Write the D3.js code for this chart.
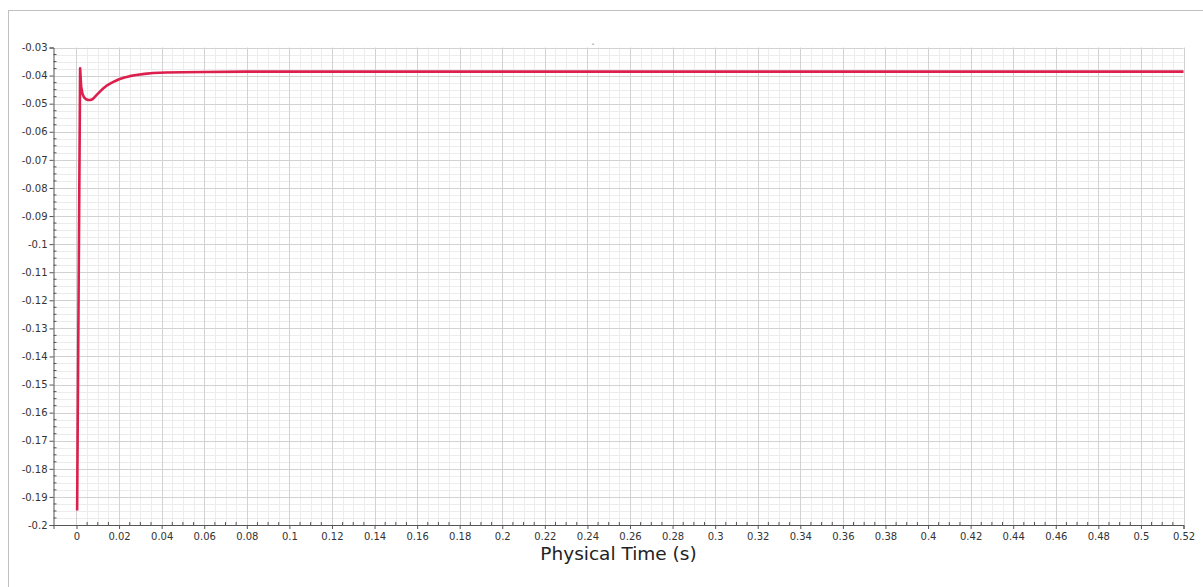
<!DOCTYPE html>
<html>
<head>
<meta charset="utf-8">
<script src="https://cdn.jsdelivr.net/npm/d3@7"></script>
<style>
  html, body { margin: 0; padding: 0; background: #fff; }
  svg { display: block; font-family: "DejaVu Sans", sans-serif; }
</style>
</head>
<body>
<svg id="chart" width="1203" height="587"></svg>
<script>
// Monitored quantity vs physical time
const time = [0.0003, 0.0017, 0.0022, 0.0028, 0.0035, 0.0045, 0.0055, 0.0065, 0.0075, 0.0085, 0.0095,
              0.011, 0.0125, 0.014, 0.016, 0.018, 0.020, 0.0225, 0.025, 0.028, 0.032, 0.036, 0.042,
              0.05, 0.06, 0.08, 0.1, 0.14, 0.2, 0.26, 0.32, 0.38, 0.44, 0.5, 0.52];
const values = [-0.1948, -0.0374, -0.0440, -0.0465, -0.0477, -0.0484, -0.0487, -0.0487, -0.0484, -0.0477, -0.0469,
                -0.0457, -0.0446, -0.0437, -0.0428, -0.0420, -0.0413, -0.0407, -0.0402, -0.0398, -0.0394, -0.0391, -0.0389,
                -0.0388, -0.0387, -0.0386, -0.0386, -0.0386, -0.0386, -0.0386, -0.0386, -0.0386, -0.0386, -0.0386, -0.0386];

const xTicks = [0, 0.02, 0.04, 0.06, 0.08, 0.1, 0.12, 0.14, 0.16, 0.18, 0.2, 0.22, 0.24, 0.26,
                0.28, 0.3, 0.32, 0.34, 0.36, 0.38, 0.4, 0.42, 0.44, 0.46, 0.48, 0.5, 0.52];
const xTickLabels = ["0", "0.02", "0.04", "0.06", "0.08", "0.1", "0.12", "0.14", "0.16", "0.18", "0.2",
                     "0.22", "0.24", "0.26", "0.28", "0.3", "0.32", "0.34", "0.36", "0.38", "0.4",
                     "0.42", "0.44", "0.46", "0.48", "0.5", "0.52"];
const yTicks = [-0.03, -0.04, -0.05, -0.06, -0.07, -0.08, -0.09, -0.1, -0.11, -0.12, -0.13, -0.14,
                -0.15, -0.16, -0.17, -0.18, -0.19, -0.2];
const yTickLabels = ["-0.03", "-0.04", "-0.05", "-0.06", "-0.07", "-0.08", "-0.09", "-0.1", "-0.11",
                     "-0.12", "-0.13", "-0.14", "-0.15", "-0.16", "-0.17", "-0.18", "-0.19", "-0.2"];
const xTitle = "Physical Time (s)";

const svg = d3.select("#chart");
const plotLeft = 53.5, plotRight = 1183.5, plotTop = 47.5, plotBottom = 525;

const x = d3.scaleLinear().domain([-0.0108, 0.52]).range([plotLeft, plotRight]);
const y = d3.scaleLinear().domain([-0.2, -0.03]).range([plotBottom, plotTop]);

// minor tick positions: 4 subdivisions per major interval
const xMinor = d3.range(0, 104).map(i => i * 0.005).filter(v => Math.abs(v / 0.02 - Math.round(v / 0.02)) > 1e-6);
const yMinor = d3.range(0, 69).map(i => -0.03 - i * 0.0025).filter(v => Math.abs(v / 0.01 - Math.round(v / 0.01)) > 1e-6);

// outer dotted frame
svg.append("rect")
  .attr("x", 8.5).attr("y", 10.5).attr("width", 1300).attr("height", 700)
  .attr("fill", "none").attr("stroke", "#808080").attr("stroke-width", 1)
  .attr("stroke-dasharray", "1,1");

// grid
const grid = svg.append("g");
grid.selectAll("line.xminor").data(xMinor).join("line")
  .attr("x1", d => Math.round(x(d)) + 0.5).attr("x2", d => Math.round(x(d)) + 0.5)
  .attr("y1", plotTop).attr("y2", plotBottom).attr("stroke", "#ececec");
grid.selectAll("line.yminor").data(yMinor).join("line")
  .attr("y1", d => Math.round(y(d)) + 0.5).attr("y2", d => Math.round(y(d)) + 0.5)
  .attr("x1", plotLeft).attr("x2", plotRight).attr("stroke", "#ececec");
grid.selectAll("line.xmajor").data(xTicks).join("line")
  .attr("x1", d => Math.round(x(d)) + 0.5).attr("x2", d => Math.round(x(d)) + 0.5)
  .attr("y1", plotTop).attr("y2", plotBottom).attr("stroke", "#d2d2d2");
grid.selectAll("line.ymajor").data(yTicks).join("line")
  .attr("y1", d => Math.round(y(d)) + 0.5).attr("y2", d => Math.round(y(d)) + 0.5)
  .attr("x1", plotLeft).attr("x2", plotRight).attr("stroke", "#d2d2d2");

// axes
const xAxis = d3.axisBottom(x).tickValues(xTicks)
  .tickFormat((d, i) => xTickLabels[i]).tickSize(4).tickPadding(4);
const yAxis = d3.axisLeft(y).tickValues(yTicks)
  .tickFormat((d, i) => yTickLabels[i]).tickSize(4).tickPadding(2);

const gx = svg.append("g").attr("transform", `translate(0,${plotBottom})`).call(xAxis);
const gy = svg.append("g").attr("transform", `translate(${plotLeft},0)`).call(yAxis);
[gx, gy].forEach(g => {
  g.select(".domain").attr("stroke", "#555");
  g.selectAll(".tick line").attr("stroke", "#555");
  g.selectAll(".tick text").attr("fill", "#333").attr("font-size", 10)
    .attr("font-family", "DejaVu Sans, sans-serif");
});

// minor ticks point inward
gx.selectAll("line.minor").data(xMinor).join("line").attr("class", "minor")
  .attr("x1", d => x(d)).attr("x2", d => x(d)).attr("y1", 0).attr("y2", -3).attr("stroke", "#555");
gy.selectAll("line.minor").data(yMinor).join("line").attr("class", "minor")
  .attr("y1", d => y(d)).attr("y2", d => y(d)).attr("x1", 0).attr("x2", 3).attr("stroke", "#555");

// axis title
svg.append("text")
  .attr("x", (plotLeft + plotRight) / 2).attr("y", 560)
  .attr("text-anchor", "middle").attr("font-size", 18.5).attr("fill", "#222")
  .text(xTitle);

// empty plot title placeholder
svg.append("text")
  .attr("x", 593).attr("y", 46).attr("text-anchor", "middle")
  .attr("font-size", 7).attr("fill", "#333").text("-");

// data line
const line = d3.line().x((d, i) => x(time[i])).y(d => y(d)).curve(d3.curveLinear);
svg.append("path")
  .datum(values)
  .attr("d", line)
  .attr("fill", "none").attr("stroke", "#dc1f4c").attr("stroke-width", 2.6)
  .attr("stroke-linejoin", "round");
</script>
</body>
</html>
